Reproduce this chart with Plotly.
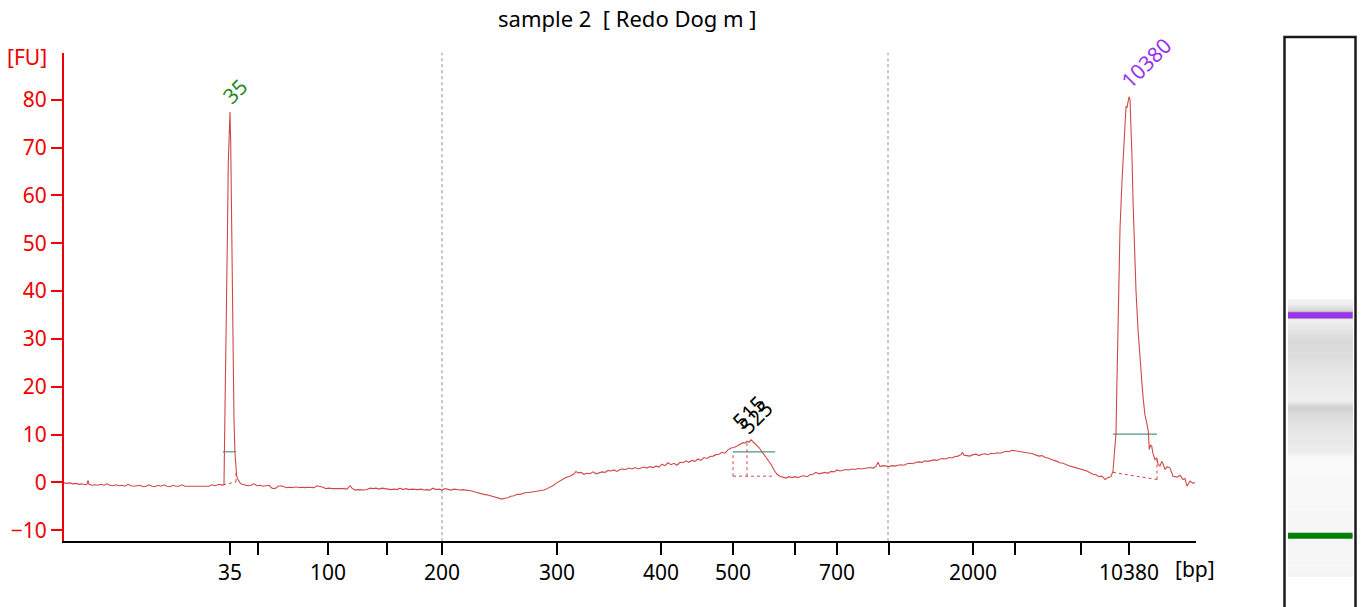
import numpy as np
import plotly.graph_objects as go

W, H = 1363, 607
OFF = 0  # body margin is removed by the post script
FONT = "Noto Sans"


def fx(p):
    return (p - OFF) / W


def fy(p):
    return 1 - (p - OFF) / H


title_text = "sample 2\u00a0\u00a0[ Redo Dog m ]"

# x axis: migration position (arbitrary units) with bp labels
tick_pos = [230, 258, 328, 387, 442, 557, 661, 733, 795, 837, 889, 973, 1015, 1081, 1129]
tick_text = ["35", "", "100", "", "200", "300", "400", "500", "", "700", "", "2000", "", "", "10380"]
y_ticks = [-10, 0, 10, 20, 30, 40, 50, 60, 70, 80]
grid_pos = [442, 888]

# electropherogram: (migration position, fluorescence [FU])
trace = [
    (64, -0.1), (67, -0.2), (70, -0.1), (73, -0.3), (76, -0.2), (79, -0.4), (82, -0.3), (85, -0.5),
    (87, -0.4), (88, 0.4), (89, -0.4), (92, -0.6), (95, -0.5), (98, -0.6), (101, -0.4), (104, -0.6),
    (107, -0.3), (110, -0.6), (113, -0.7), (116, -0.5), (119, -0.7), (122, -0.6), (125, -0.8), (128, -0.4),
    (131, -0.7), (134, -0.8), (137, -0.7), (140, -0.6), (143, -0.9), (146, -0.8), (149, -0.5), (152, -0.8),
    (155, -0.9), (158, -0.6), (161, -0.8), (164, -0.5), (167, -0.8), (170, -0.9), (173, -0.6), (176, -0.8),
    (179, -0.8), (182, -0.5), (185, -0.8), (188, -0.8), (191, -0.7), (194, -0.8), (197, -0.8), (200, -0.8),
    (203, -0.7), (206, -0.8), (209, -0.8), (212, -0.5), (215, -0.7), (218, -0.5), (220, -0.4), (222, -0.6),
    (224, -0.4), (224.4, 6.0), (225.5, 20), (226.7, 39.6), (227.5, 53), (228.3, 67), (229.2, 74), (230, 77.4),
    (230.7, 71), (231.7, 53), (232.7, 32), (234, 13), (235, 6), (236, 2.5), (236.7, 1.3), (238, 0.6),
    (240, -0.1), (242, -0.4), (245, -0.6), (248, -0.7), (251, -0.6), (254, -0.3), (257, -0.7), (260, -0.6),
    (263, -0.8), (266, -0.7), (269, -0.6), (272, -1.2), (275, -1.3), (278, -0.8), (281, -0.7), (284, -0.9),
    (287, -1.1), (290, -1.0), (293, -1.1), (296, -0.9), (299, -1.1), (302, -1.0), (305, -1.1), (308, -1.0),
    (311, -1.1), (314, -1.1), (317, -0.7), (320, -0.8), (323, -1.0), (326, -1.3), (329, -1.2), (332, -1.3),
    (335, -1.3), (338, -1.2), (341, -1.3), (344, -1.3), (347, -1.4), (350, -0.7), (352, -1.2), (355, -1.6),
    (358, -1.5), (361, -1.6), (364, -1.6), (367, -1.5), (370, -1.2), (373, -1.3), (376, -1.2), (379, -1.4),
    (382, -1.2), (385, -1.3), (388, -1.4), (391, -1.5), (394, -1.4), (397, -1.5), (400, -1.2), (403, -1.5),
    (406, -1.3), (409, -1.5), (412, -1.4), (415, -1.5), (418, -1.5), (421, -1.4), (424, -1.6), (427, -1.5),
    (430, -1.6), (433, -1.2), (436, -1.5), (439, -1.4), (442, -1.6), (445, -1.3), (448, -1.5), (451, -1.6),
    (454, -1.4), (457, -1.5), (460, -1.6), (463, -1.5), (466, -1.6), (469, -1.6), (472, -1.8), (475, -2.0),
    (478, -2.2), (481, -2.3), (484, -2.5), (487, -2.6), (490, -2.8), (493, -3.0), (496, -3.2), (499, -3.4),
    (502, -3.5), (505, -3.3), (508, -3.2), (511, -2.9), (514, -2.8), (517, -2.5), (520, -2.5), (523, -2.3),
    (526, -2.1), (529, -2.1), (532, -2.0), (535, -1.9), (538, -1.9), (541, -1.8), (544, -1.6), (547, -1.3),
    (550, -1.0), (553, -0.7), (556, -0.2), (559, 0.2), (562, 0.6), (565, 0.9), (568, 1.2), (571, 1.4),
    (574, 1.8), (576, 2.3), (578, 2.0), (581, 2.1), (584, 1.7), (587, 1.9), (590, 1.8), (593, 2.2),
    (596, 1.8), (599, 2.0), (602, 2.2), (605, 2.1), (608, 2.5), (611, 2.4), (614, 2.6), (617, 2.3),
    (620, 2.7), (623, 2.8), (626, 2.7), (629, 3.0), (632, 2.8), (635, 3.1), (638, 2.8), (641, 3.0),
    (644, 3.2), (647, 3.0), (650, 3.3), (653, 3.1), (656, 3.4), (659, 3.2), (662, 3.8), (665, 3.5),
    (668, 4.1), (671, 3.7), (674, 4.0), (677, 3.6), (680, 4.2), (683, 4.1), (686, 4.5), (689, 4.2),
    (692, 4.6), (695, 4.4), (698, 4.9), (701, 4.6), (704, 5.2), (707, 5.0), (710, 5.4), (713, 5.5),
    (716, 5.8), (719, 5.9), (722, 6.3), (725, 6.1), (728, 6.8), (731, 7.2), (734, 7.3), (737, 7.6),
    (740, 7.9), (743, 8.3), (745, 8.2), (747, 8.6), (749, 8.4), (751, 8.9), (753, 8.5), (756, 7.9),
    (759, 7.3), (762, 6.4), (765, 5.5), (768, 4.7), (771, 3.8), (774, 2.6), (777, 1.7), (780, 1.3),
    (783, 1.1), (786, 0.9), (789, 1.2), (792, 1.0), (795, 1.2), (798, 1.0), (801, 1.3), (804, 1.4),
    (807, 1.2), (810, 1.6), (813, 1.7), (816, 2.1), (819, 1.8), (822, 2.0), (825, 2.1), (828, 1.9),
    (831, 2.3), (834, 2.2), (837, 2.6), (840, 2.4), (843, 2.5), (846, 2.7), (849, 2.6), (852, 2.8),
    (855, 2.7), (858, 2.9), (861, 2.8), (864, 2.9), (867, 3.0), (870, 3.1), (873, 3.0), (876, 3.3),
    (878, 4.2), (880, 3.3), (883, 3.5), (886, 3.4), (889, 3.3), (892, 3.5), (895, 3.4), (898, 3.6),
    (901, 3.7), (904, 3.6), (907, 3.9), (910, 4.0), (913, 3.9), (916, 4.2), (919, 4.3), (922, 4.2),
    (925, 4.5), (928, 4.4), (931, 4.6), (934, 4.7), (937, 4.6), (940, 4.9), (943, 5.0), (946, 4.9),
    (949, 5.2), (952, 5.1), (955, 5.4), (958, 5.5), (961, 5.8), (962.5, 6.3), (964, 5.7), (967, 5.6),
    (970, 5.5), (973, 5.8), (976, 5.9), (979, 5.6), (982, 5.9), (985, 6.0), (988, 5.8), (991, 6.1),
    (994, 6.0), (997, 6.2), (1000, 6.1), (1003, 6.3), (1006, 6.5), (1009, 6.4), (1012, 6.7), (1015, 6.6),
    (1018, 6.5), (1021, 6.4), (1024, 6.3), (1027, 6.3), (1030, 6.1), (1033, 6.0), (1036, 5.7), (1039, 5.5),
    (1042, 5.6), (1045, 5.2), (1048, 5.1), (1051, 4.8), (1054, 4.6), (1057, 4.4), (1060, 4.1), (1063, 4.0),
    (1066, 3.7), (1069, 3.5), (1072, 3.3), (1075, 3.1), (1078, 3.0), (1081, 2.8), (1084, 2.5), (1087, 2.4),
    (1090, 2.0), (1093, 1.7), (1096, 1.6), (1099, 1.2), (1102, 1.3), (1105, 0.6), (1108, 1.0), (1111, 1.2),
    (1113, 2.4), (1114, 4.8), (1116, 10.3), (1117, 21.5), (1118, 33), (1119, 45), (1120, 53), (1122, 63),
    (1124, 70), (1125, 74), (1126, 78.5), (1127, 78.4), (1128, 79.5), (1129, 80.6), (1130, 80), (1131, 75),
    (1132, 68), (1133, 59), (1134, 52), (1136, 40), (1138, 32), (1140, 25), (1142, 20.5), (1143.3, 17.3),
    (1145, 14), (1146.7, 12.5), (1148.3, 10.7), (1149.3, 6.9), (1150.5, 7.8), (1151.7, 7.6), (1153, 6.0),
    (1155, 4.8), (1156.7, 5.1), (1158, 3.8), (1160, 3.4), (1161.7, 4.4), (1163, 3.9), (1165, 2.7),
    (1167, 3.3), (1170, 3.0), (1173, 1.3), (1177, 1.1), (1180, 1.5), (1183, 0.6), (1185, 0.8),
    (1187, -0.8), (1190, 0.3), (1193, -0.2), (1195, 0.0),
]
mig = [p[0] for p in trace]
fu = [p[1] for p in trace]

# called peaks
peak_text = ["35", "515", "525", "10380"]
peak_pos = [230, 747, 747, 1129]
peak_fu = [77.4, 8.6, 8.6, 80.6]
peak_color = ["#2a8a2a", "#000000", "#000000", "#9933ee"]
label_shift = [(5, 21), (2, 29), (9, 24), (17, 34)]

# integration regions
region_start = [223, 733, 1113]
region_end = [236, 775, 1157]
region_width_level = [6.4, 6.4, 10.1]
region_base_start = [-0.5, 1.3, 2.1]
region_base_end = [0.1, 1.3, 0.6]
split_pos = [747]

# gel markers
gel_marker_pos = [230, 1129]
gel_marker_color = ["#008000", "#9933ee"]

TRACE_COL = "#d04848"
WIDTH_COL = "#4a9585"
RED = "#f00000"

fig = go.Figure()

# integration baselines and width markers
for s, e, lvl, b0, b1 in zip(region_start, region_end, region_width_level,
                              region_base_start, region_base_end):
    fig.add_trace(go.Scatter(x=[s, e], y=[b0, b1], mode="lines",
                             line=dict(color=TRACE_COL, width=1, dash="dot"),
                             hoverinfo="skip", showlegend=False))
    for xb, yb in ((s, b0), (e, b1)):
        yt = float(np.interp(xb, mig, fu))
        if yt - yb > 1.0:
            fig.add_trace(go.Scatter(x=[xb, xb], y=[yb, min(yt, lvl)], mode="lines",
                                     line=dict(color=TRACE_COL, width=1, dash="dot"),
                                     hoverinfo="skip", showlegend=False))
    fig.add_trace(go.Scatter(x=[s, e], y=[lvl, lvl], mode="lines",
                             line=dict(color=WIDTH_COL, width=1.2),
                             hoverinfo="skip", showlegend=False))
for sp in split_pos:
    i = region_start.index(733)
    fig.add_trace(go.Scatter(x=[sp, sp], y=[region_base_start[i], float(np.interp(sp, mig, fu))],
                             mode="lines", line=dict(color=TRACE_COL, width=1, dash="dot"),
                             hoverinfo="skip", showlegend=False))

fig.add_trace(go.Scatter(x=mig, y=fu, mode="lines",
                         line=dict(color=TRACE_COL, width=1.1),
                         hoverinfo="skip", showlegend=False))

# gel lane (rendered from the same trace)
gel_scale = (537.5 - 316.3) / (gel_marker_pos[1] - gel_marker_pos[0])
gel_lo = gel_marker_pos[0] - (H + OFF - 537.5) / gel_scale
gel_hi = gel_marker_pos[0] + (537.5 - 37) / gel_scale

fig.add_trace(go.Heatmap(
    x=[5, 69.5], y=mig, z=[[v] for v in fu], xaxis="x2", yaxis="y2",
    zmin=-2, zmax=20, showscale=False, hoverinfo="skip",
    colorscale=[[0, "#fafafa"], [0.09, "#f4f4f4"], [0.27, "#e4e4e4"],
                [0.5, "#d0d0d0"], [1, "#b5b5b5"]],
))
for gp, gc in zip(gel_marker_pos, gel_marker_color):
    fig.add_trace(go.Scatter(x=[5, 69.5], y=[gp, gp], mode="lines", xaxis="x2", yaxis="y2",
                             line=dict(color=gc, width=6), hoverinfo="skip", showlegend=False))

shapes = []
for g in grid_pos:
    shapes.append(dict(type="line", xref="x", yref="y domain", x0=g, x1=g, y0=0, y1=1,
                       line=dict(color="#8a8aa8", width=1, dash="dot"), layer="below"))
shapes.append(dict(type="rect", xref="paper", yref="paper",
                   x0=fx(1284.5), x1=fx(1355.5), y0=-0.05, y1=fy(37),
                   line=dict(color="#1a1a1a", width=2.5)))

annotations = [
    dict(text=title_text, xref="paper", yref="paper", x=fx(627), y=fy(18),
         showarrow=False, xanchor="center", yanchor="middle",
         font=dict(family=FONT, size=22, color="#000000")),
    dict(text="[FU]", xref="paper", yref="paper", x=fx(27), y=fy(57),
         showarrow=False, xanchor="center", yanchor="middle",
         font=dict(family=FONT, size=21, color=RED)),
    dict(text="[bp]", xref="paper", yref="paper", x=fx(1195), y=fy(571),
         showarrow=False, xanchor="center", yanchor="middle",
         font=dict(family=FONT, size=21, color="#000000")),
]
for t, xp, yp, c, (dx, dy) in zip(peak_text, peak_pos, peak_fu, peak_color, label_shift):
    annotations.append(dict(text=t, x=xp, y=yp, xref="x", yref="y", showarrow=False,
                            xshift=dx, yshift=dy, textangle=-45,
                            xanchor="center", yanchor="middle",
                            font=dict(family=FONT, size=21, color=c)))

Y_BOT_PX, Y_TOP_PX, ZERO_PX, PX_PER_FU = 543, 53, 484, 4.8

fig.update_layout(
    width=W, height=H, margin=dict(l=0, r=0, t=0, b=0),
    paper_bgcolor="white", plot_bgcolor="white", showlegend=False,
    xaxis=dict(domain=[fx(64), fx(1196)], range=[64, 1196], tickmode="array",
               tickvals=tick_pos, ticktext=tick_text, ticks="outside", ticklen=12,
               tickwidth=2, tickcolor="#000000", showline=True, linecolor="#000000",
               linewidth=2, showgrid=False, zeroline=False, ticklabelstandoff=0,
               tickfont=dict(family=FONT, size=21, color="#000000")),
    yaxis=dict(domain=[fy(Y_BOT_PX), fy(Y_TOP_PX)],
               range=[(ZERO_PX - Y_BOT_PX) / PX_PER_FU, (ZERO_PX - Y_TOP_PX) / PX_PER_FU],
               tickmode="array", tickvals=y_ticks, ticks="outside", ticklen=11, tickwidth=2,
               tickcolor=RED, showline=True, linecolor=RED, linewidth=2,
               showgrid=False, zeroline=False,
               tickfont=dict(family=FONT, size=21, color=RED)),
    xaxis2=dict(domain=[fx(1283), fx(1357)], range=[0, 74], visible=False, fixedrange=True,
                anchor="y2"),
    yaxis2=dict(domain=[0, fy(37)], range=[gel_lo, gel_hi], visible=False,
                fixedrange=True, anchor="x2"),
    shapes=shapes, annotations=annotations,
)

fig.write_html("out.html", config={"displayModeBar": False},
               post_script="document.body.style.margin='0';document.body.style.overflow='hidden';")
